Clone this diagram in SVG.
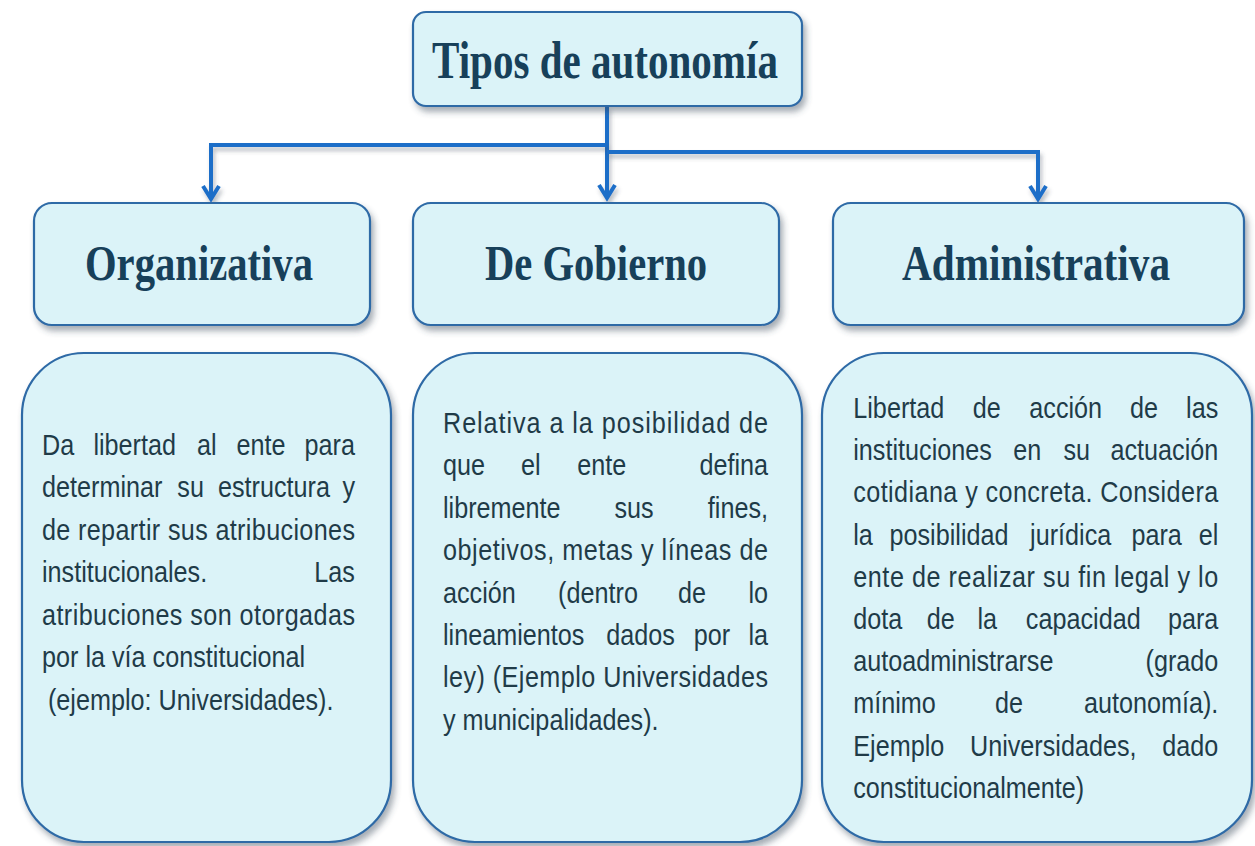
<svg xmlns="http://www.w3.org/2000/svg" width="1255" height="846" viewBox="0 0 1255 846">
<defs>
<filter id="sh" x="-10%" y="-10%" width="125%" height="130%">
<feDropShadow dx="3" dy="5" stdDeviation="3" flood-color="#3a4a5a" flood-opacity="0.45"/>
</filter>
<filter id="lsh" filterUnits="userSpaceOnUse" x="0" y="0" width="1255" height="846">
<feDropShadow dx="2" dy="4" stdDeviation="2" flood-color="#3a4a5a" flood-opacity="0.35"/>
</filter>
<marker id="arr" markerUnits="userSpaceOnUse" viewBox="-16 -10 18 20" markerWidth="18" markerHeight="20" refX="0" refY="0" orient="auto" overflow="visible">
<path d="M-13,-8 L0,0 L-13,8" fill="none" stroke="#1e6ec8" stroke-width="4" stroke-linejoin="miter"/>
</marker>
</defs>
<style>
.box{fill:#dbf3f8;stroke:#2e6aa6;stroke-width:2.2;filter:url(#sh)}
.ttl{font-family:"Liberation Serif",serif;font-weight:bold;fill:#17405a;text-anchor:middle}
.b{font-family:"Liberation Sans",Arial,sans-serif;font-size:30px;fill:#1f3b48}
.m{text-anchor:middle}
.e{text-anchor:end}
.con{fill:none;stroke:#1e6ec8;stroke-width:4;filter:url(#lsh)}
</style>
<rect width="1255" height="846" fill="#ffffff"/>

<g id="connectors">
<path class="con" d="M607,106 V198" marker-end="url(#arr)"/>
<path class="con" d="M607,145 H211 V199" marker-end="url(#arr)"/>
<path class="con" d="M607,152 H1038 V199" marker-end="url(#arr)"/>
</g>

<g id="root">
<rect class="box" x="413" y="12" width="389" height="94" rx="13"/>
<text class="ttl" x="605" y="78" font-size="52" textLength="346" lengthAdjust="spacingAndGlyphs">Tipos de autonomía</text>
</g>

<g id="organizativa">
<rect class="box" x="34" y="203" width="336" height="122" rx="18"/>
<text class="ttl" x="199" y="280" font-size="50" textLength="228" lengthAdjust="spacingAndGlyphs">Organizativa</text>
</g>

<g id="gobierno">
<rect class="box" x="413" y="203" width="366" height="122" rx="18"/>
<text class="ttl" x="596" y="280" font-size="50" textLength="222" lengthAdjust="spacingAndGlyphs">De Gobierno</text>
</g>

<g id="administrativa">
<rect class="box" x="833" y="203" width="411" height="122" rx="18"/>
<text class="ttl" x="1036" y="280" font-size="50" textLength="268" lengthAdjust="spacingAndGlyphs">Administrativa</text>
</g>

<g id="desc-organizativa">
<rect class="box" x="22" y="353" width="369" height="489" rx="62"/>
<g transform="scale(0.84,1)">
<text class="b" x="50" y="455">Da</text><text class="b m" x="160.4" y="455">libertad</text><text class="b m" x="246.1" y="455">al</text><text class="b m" x="310.7" y="455">ente</text><text class="b e" x="422.6" y="455">para</text>
<text class="b" x="50" y="497.5">determinar</text><text class="b m" x="227" y="497.5">su</text><text class="b m" x="326.2" y="497.5">estructura</text><text class="b e" x="422.6" y="497.5">y</text>
<text class="b" x="50" y="540" textLength="372.6" lengthAdjust="spacing">de repartir sus atribuciones</text>
<text class="b" x="50" y="582.5">institucionales.</text><text class="b e" x="422.6" y="582.5">Las</text>
<text class="b" x="50" y="625" textLength="372.6" lengthAdjust="spacing">atribuciones son otorgadas</text>
<text class="b" x="50" y="667.5">por la vía constitucional</text>
<text class="b" x="57.1" y="710">(ejemplo:  Universidades).</text>
</g>
</g>

<g id="desc-gobierno">
<rect class="box" x="413" y="353" width="389" height="489" rx="62"/>
<g transform="scale(0.84,1)">
<text class="b" x="527.4" y="433" textLength="386.9" lengthAdjust="spacing">Relativa a la posibilidad de</text>
<text class="b" x="527.4" y="475.4">que</text><text class="b m" x="631.8" y="475.4">el</text><text class="b m" x="716.3" y="475.4">ente</text><text class="b e" x="914.3" y="475.4">defina</text>
<text class="b" x="527.4" y="517.8">libremente</text><text class="b m" x="754.8" y="517.8">sus</text><text class="b e" x="914.3" y="517.8">fines,</text>
<text class="b" x="527.4" y="560.2" textLength="386.9" lengthAdjust="spacing">objetivos, metas y líneas de</text>
<text class="b" x="527.4" y="602.6">acción</text><text class="b m" x="711.9" y="602.6">(dentro</text><text class="b m" x="823.8" y="602.6">de</text><text class="b e" x="914.3" y="602.6">lo</text>
<text class="b" x="527.4" y="645">lineamientos</text><text class="b m" x="762.7" y="645">dados</text><text class="b m" x="847.6" y="645">por</text><text class="b e" x="914.3" y="645">la</text>
<text class="b" x="527.4" y="687.4" textLength="386.9" lengthAdjust="spacing">ley) (Ejemplo Universidades</text>
<text class="b" x="527.4" y="729.8">y municipalidades).</text>
</g>
</g>

<g id="desc-administrativa">
<rect class="box" x="822" y="353" width="430" height="489" rx="62"/>
<g transform="scale(0.84,1)">
<text class="b" x="1015.8" y="418">Libertad</text><text class="b m" x="1174.6" y="418">de</text><text class="b m" x="1268.7" y="418">acción</text><text class="b m" x="1361.9" y="418">de</text><text class="b e" x="1450.4" y="418">las</text>
<text class="b" x="1015.8" y="460.2">instituciones</text><text class="b m" x="1223" y="460.2">en</text><text class="b m" x="1281.8" y="460.2">su</text><text class="b e" x="1450.4" y="460.2">actuación</text>
<text class="b" x="1015.8" y="502.4" textLength="434.5" lengthAdjust="spacing">cotidiana y concreta. Considera</text>
<text class="b" x="1015.8" y="544.6">la</text><text class="b m" x="1129.8" y="544.6">posibilidad</text><text class="b m" x="1274.6" y="544.6">jurídica</text><text class="b m" x="1377" y="544.6">para</text><text class="b e" x="1450.4" y="544.6">el</text>
<text class="b" x="1015.8" y="586.8" textLength="434.5" lengthAdjust="spacing">ente de realizar su fin legal y lo</text>
<text class="b" x="1015.8" y="629">dota</text><text class="b m" x="1119.9" y="629">de</text><text class="b m" x="1175.4" y="629">la</text><text class="b m" x="1289.6" y="629">capacidad</text><text class="b e" x="1450.4" y="629">para</text>
<text class="b" x="1015.8" y="671.2">autoadministrarse</text><text class="b e" x="1450.4" y="671.2">(grado</text>
<text class="b" x="1015.8" y="713.4">mínimo</text><text class="b m" x="1201.2" y="713.4">de</text><text class="b e" x="1450.4" y="713.4">autonomía).</text>
<text class="b" x="1015.8" y="755.6">Ejemplo</text><text class="b m" x="1253.9" y="755.6">Universidades,</text><text class="b e" x="1450.4" y="755.6">dado</text>
<text class="b" x="1015.8" y="797.8">constitucionalmente)</text>
</g>
</g>
</svg>
